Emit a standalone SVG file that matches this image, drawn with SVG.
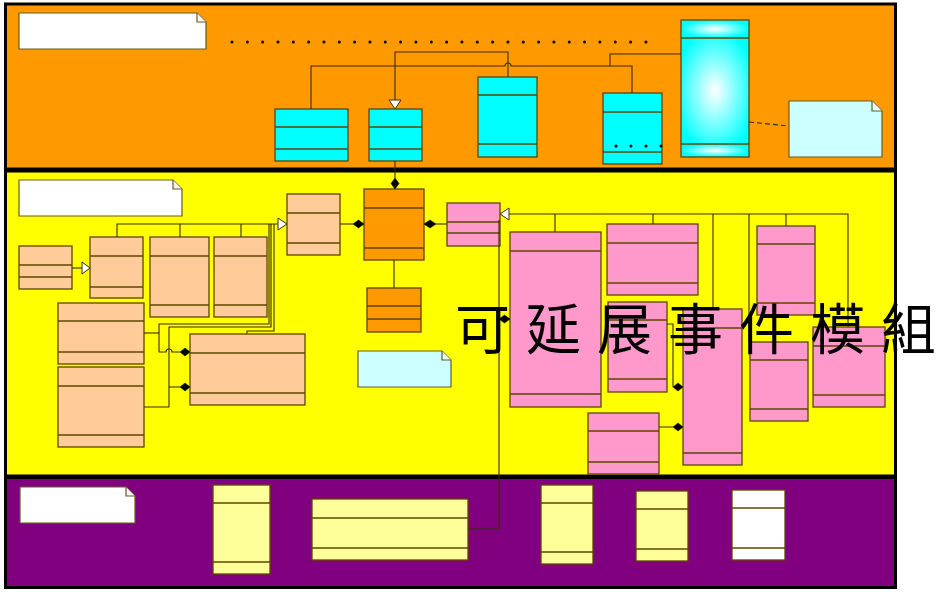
<svg xmlns="http://www.w3.org/2000/svg" width="939" height="602" viewBox="0 0 939 602">
<defs>
<style>
.band{stroke:#000;stroke-width:3}
.c{stroke:#5c4600;stroke-width:1.3}
.cy{fill:#00FFFF}
.pe{fill:#FFCC99}
.pk{fill:#FF99CC}
.or{fill:#FF9900}
.yl{fill:#FFFF99}
.wh{fill:#FFFFFF}
.ln{stroke:#5c4600;stroke-width:1.3}
.conn{fill:none;stroke:#3a2c00;stroke-width:1.1}
.dia{fill:#000;stroke:#000;stroke-width:0.5}
.tri{fill:#fff;stroke:#3a2c00;stroke-width:1}
.note{stroke:#6a5a20;stroke-width:1.2}
.dots{fill:none;stroke:#000;stroke-width:3;stroke-linecap:round}
.big{font-family:"Noto Sans CJK TC","Noto Sans CJK SC",sans-serif;font-size:55px;fill:#000}
</style>
<radialGradient id="gBody" cx="0.5" cy="0.5" r="0.6">
<stop offset="0" stop-color="#FFFFFF"/>
<stop offset="1" stop-color="#00FFFF"/>
</radialGradient>
<radialGradient id="gBand" cx="0.5" cy="0.5" r="0.5" fx="0.5" fy="0.5">
<stop offset="0" stop-color="#FFFFFF"/>
<stop offset="1" stop-color="#00FFFF"/>
</radialGradient>
</defs>

<g id="bands">
<rect class="band" x="5.5" y="4" width="890" height="165" fill="#FF9900"/>
<rect class="band" x="5.5" y="171" width="890" height="305" fill="#FFFF00"/>
<rect class="band" x="5.5" y="477.5" width="890" height="110" fill="#800080"/>
</g>

<!-- top band -->
<g id="note-top">
<path class="note" d="M19 13 H197 L206 22 V49 H19 Z" fill="#fff"/>
<path class="note" d="M197 13 V22 H206" fill="#f4f4f4"/>
</g>
<g id="dots-top"><line class="dots" x1="232" y1="42" x2="647" y2="42" stroke-dasharray="0 15.33"/></g>

<g id="cyan1"><rect class="c cy" x="275" y="109" width="73" height="52"/><line class="ln" x1="275" y1="127" x2="348" y2="127"/><line class="ln" x1="275" y1="149" x2="348" y2="149"/></g>
<g id="cyan2"><rect class="c cy" x="369" y="109" width="53" height="52"/><line class="ln" x1="369" y1="127" x2="422" y2="127"/><line class="ln" x1="369" y1="149" x2="422" y2="149"/></g>
<g id="cyan3"><rect class="c cy" x="478" y="77" width="59" height="80"/><line class="ln" x1="478" y1="95" x2="537" y2="95"/><line class="ln" x1="478" y1="144" x2="537" y2="144"/></g>
<g id="cyan4"><rect class="c cy" x="603" y="93" width="59" height="71"/><line class="ln" x1="603" y1="112" x2="662" y2="112"/><line class="ln" x1="603" y1="152" x2="662" y2="152"/><line class="dots" x1="616" y1="146" x2="662" y2="146" stroke-dasharray="0 15" stroke-width="2.6"/></g>
<g id="cyan-big">
<rect x="681" y="20" width="68" height="18" fill="url(#gBand)"/>
<rect x="681" y="38" width="68" height="106" fill="url(#gBody)"/>
<rect x="681" y="144" width="68" height="13" fill="url(#gBand)"/>
<rect class="c" x="681" y="20" width="68" height="137" fill="none"/>
<line class="ln" x1="681" y1="38" x2="749" y2="38"/><line class="ln" x1="681" y1="144" x2="749" y2="144"/>
</g>
<g id="note-top-right">
<path class="note" d="M789 101 H872 L882 111 V157 H789 Z" fill="#CCFFFF"/>
<path class="note" d="M872 101 V111 H882" fill="#e6ffff"/>
</g>

<!-- middle band -->
<g id="note-mid">
<path class="note" d="M19 180 H173 L182 189 V216 H19 Z" fill="#fff"/>
<path class="note" d="M173 180 V189 H182" fill="#f4f4f4"/>
</g>
<g id="pA"><rect class="c pe" x="19" y="246" width="53" height="43"/><line class="ln" x1="19" y1="265" x2="72" y2="265"/><line class="ln" x1="19" y1="277" x2="72" y2="277"/></g>
<g id="pB"><rect class="c pe" x="90" y="237" width="53" height="61"/><line class="ln" x1="90" y1="256" x2="143" y2="256"/><line class="ln" x1="90" y1="287" x2="143" y2="287"/></g>
<g id="pC"><rect class="c pe" x="150" y="237" width="59" height="80"/><line class="ln" x1="150" y1="256" x2="209" y2="256"/><line class="ln" x1="150" y1="305" x2="209" y2="305"/></g>
<g id="pD"><rect class="c pe" x="214" y="237" width="53" height="80"/><line class="ln" x1="214" y1="256" x2="267" y2="256"/><line class="ln" x1="214" y1="305" x2="267" y2="305"/></g>
<g id="pF"><rect class="c pe" x="58" y="303" width="86" height="61"/><line class="ln" x1="58" y1="321" x2="144" y2="321"/><line class="ln" x1="58" y1="352" x2="144" y2="352"/></g>
<g id="pG"><rect class="c pe" x="58" y="367" width="86" height="80"/><line class="ln" x1="58" y1="386" x2="144" y2="386"/><line class="ln" x1="58" y1="435" x2="144" y2="435"/></g>
<g id="pE"><rect class="c pe" x="190" y="334" width="115" height="71"/><line class="ln" x1="190" y1="353" x2="305" y2="353"/><line class="ln" x1="190" y1="393" x2="305" y2="393"/></g>
<g id="pH"><rect class="c pe" x="287" y="194" width="53" height="61"/><line class="ln" x1="287" y1="213" x2="340" y2="213"/><line class="ln" x1="287" y1="243" x2="340" y2="243"/></g>
<g id="oI"><rect class="c or" x="364" y="189" width="60" height="71"/><line class="ln" x1="364" y1="208" x2="424" y2="208"/><line class="ln" x1="364" y1="248" x2="424" y2="248"/></g>
<g id="oK"><rect class="c or" x="367" y="288" width="54" height="44"/><line class="ln" x1="367" y1="306" x2="421" y2="306"/><line class="ln" x1="367" y1="319" x2="421" y2="319"/></g>
<g id="pkJ"><rect class="c pk" x="447" y="203" width="53" height="43"/><line class="ln" x1="447" y1="222" x2="500" y2="222"/><line class="ln" x1="447" y1="233" x2="500" y2="233"/></g>
<g id="note-mid2">
<path class="note" d="M358 351 H442 L451 360 V387 H358 Z" fill="#CCFFFF"/>
<path class="note" d="M442 351 V360 H451" fill="#e6ffff"/>
</g>
<g id="pkL"><rect class="c pk" x="510" y="232" width="91" height="175"/><line class="ln" x1="510" y1="251" x2="601" y2="251"/><line class="ln" x1="510" y1="394" x2="601" y2="394"/></g>
<g id="pkM"><rect class="c pk" x="607" y="224" width="91" height="71"/><line class="ln" x1="607" y1="243" x2="698" y2="243"/><line class="ln" x1="607" y1="283" x2="698" y2="283"/></g>
<g id="pkN"><rect class="c pk" x="608" y="302" width="59" height="90"/><line class="ln" x1="608" y1="320" x2="667" y2="320"/><line class="ln" x1="608" y1="379" x2="667" y2="379"/></g>
<g id="pkO"><rect class="c pk" x="683" y="309" width="59" height="156"/><line class="ln" x1="683" y1="328" x2="742" y2="328"/><line class="ln" x1="683" y1="453" x2="742" y2="453"/></g>
<g id="pkP"><rect class="c pk" x="588" y="413" width="71" height="61"/><line class="ln" x1="588" y1="431" x2="659" y2="431"/><line class="ln" x1="588" y1="462" x2="659" y2="462"/></g>
<g id="pkQ"><rect class="c pk" x="750" y="342" width="58" height="79"/><line class="ln" x1="750" y1="360" x2="808" y2="360"/><line class="ln" x1="750" y1="409" x2="808" y2="409"/></g>
<g id="pkR"><rect class="c pk" x="757" y="226" width="58" height="89"/><line class="ln" x1="757" y1="244" x2="815" y2="244"/><line class="ln" x1="757" y1="303" x2="815" y2="303"/></g>
<g id="pkS"><rect class="c pk" x="813" y="327" width="72" height="80"/><line class="ln" x1="813" y1="346" x2="885" y2="346"/><line class="ln" x1="813" y1="395" x2="885" y2="395"/></g>

<!-- bottom band -->
<g id="note-bot">
<path class="note" d="M20 487 H126 L135 496 V523 H20 Z" fill="#fff"/>
<path class="note" d="M126 487 V496 H135" fill="#f4f4f4"/>
</g>
<g id="yT1"><rect class="c yl" x="213" y="485" width="57" height="89"/><line class="ln" x1="213" y1="503" x2="270" y2="503"/><line class="ln" x1="213" y1="562" x2="270" y2="562"/></g>
<g id="yT2"><rect class="c yl" x="312" y="499" width="156" height="61"/><line class="ln" x1="312" y1="518" x2="468" y2="518"/><line class="ln" x1="312" y1="548" x2="468" y2="548"/></g>
<g id="yT3"><rect class="c yl" x="541" y="485" width="52" height="79"/><line class="ln" x1="541" y1="503" x2="593" y2="503"/><line class="ln" x1="541" y1="552" x2="593" y2="552"/></g>
<g id="yT4"><rect class="c yl" x="636" y="491" width="52" height="70"/><line class="ln" x1="636" y1="509" x2="688" y2="509"/><line class="ln" x1="636" y1="549" x2="688" y2="549"/></g>
<g id="wT5"><rect class="c wh" x="732" y="490" width="53" height="70"/><line class="ln" x1="732" y1="508" x2="785" y2="508"/><line class="ln" x1="732" y1="548" x2="785" y2="548"/></g>

<g id="connectors">
<path class="conn" d="M311 109 V66 H505 a3 3 0 0 1 6 0 H632 V93"/>
<path class="conn" d="M395 100 V52 H508 V77"/>
<path class="conn" d="M681 54 H610 V66"/>
<polygon class="tri" points="389,100 401,100 395,109"/>
<path class="conn" d="M395 161 V178"/>
<polygon class="dia" points="395,178 399,183.5 395,189 391,183.5"/>
<path class="conn" d="M749 122 L789 126" stroke-dasharray="5 3"/>

<path class="conn" d="M72 268 H82"/>
<polygon class="tri" points="82,262 82,274 90,268"/>
<path class="conn" d="M117 237 V224 H278 M180 237 V224 M241 237 V224"/>
<polygon class="tri" points="278,218 278,230 287,224"/>
<path class="conn" d="M269 224 V324 H159 V352 H166 a3 3 0 0 1 6 0 H180"/>
<path class="conn" d="M144 333 H159"/>
<path class="conn" d="M271 224 V327 H169 V407 H144 M169 387 H180"/>
<path class="conn" d="M274 224 V331 H247 V334"/>
<polygon class="dia" points="180,352 185,348 190,352 185,356"/>
<polygon class="dia" points="180,387 185,383 190,387 185,391"/>
<path class="conn" d="M340 224 H353"/>
<polygon class="dia" points="353,224 358.5,220 364,224 358.5,228"/>
<polygon class="dia" points="424,224 430,220 436,224 430,228"/>
<path class="conn" d="M436 224 H447"/>
<path class="conn" d="M394 260 V288"/>
<polygon class="tri" points="500,214 509,208 509,220"/>
<path class="conn" d="M509 214 H848 V327 M555 214 V232 M653 214 V224 M713 214 V309 M749 214 V342 M786 214 V226"/>
<path class="conn" d="M499 220 V529 H468"/>
<polygon class="dia" points="499,319 504.5,315 510,319 504.5,323"/>
<path class="conn" d="M667 324 H673 V387 M659 427 H673"/>
<polygon class="dia" points="673,387 678,383 683,387 678,391"/>
<polygon class="dia" points="673,427 678,423 683,427 678,431"/>
</g>

<g id="title"><text class="big" x="455 526 597 668 739 810 881" y="349">可延展事件模組</text></g>
</svg>
